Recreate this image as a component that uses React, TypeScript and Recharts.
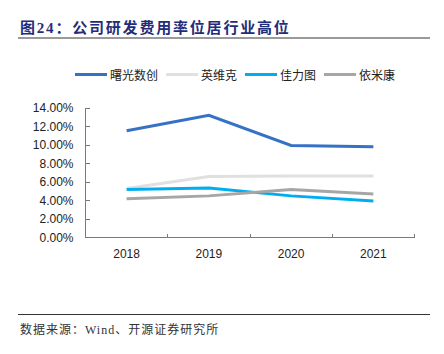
import { LineChart, Line, XAxis, YAxis } from "recharts";

const years = ["2018", "2019", "2020", "2021"];
const seriesNames = ["曙光数创", "英维克", "佳力图", "依米康"];
const seriesColors = ["#3572C6", "#E0E0E0", "#00AEEF", "#A6A6A6"];

const shuguang = [11.55, 13.2, 9.95, 9.8];
const yingweike = [5.3, 6.6, 6.65, 6.65];
const jialitu = [5.2, 5.35, 4.5, 3.95];
const yimikang = [4.2, 4.5, 5.2, 4.7];

const yTicks = [0, 2, 4, 6, 8, 10, 12, 14];
const xTicks = [0, 1, 2, 3, 4]; // category boundaries

const seriesValues = [shuguang, yingweike, jialitu, yimikang];

// each year sits in the middle of its band
const data = years.map((y, i) => {
  const row: Record<string, any> = { year: y, x: i + 0.5 };
  seriesNames.forEach((n, k) => {
    row[n] = seriesValues[k][i];
  });
  return row;
});

const W = 444;
const H = 354;
// half pixels so the 1px axis lines land on whole pixels
const margin = { top: 108, right: 29.5, bottom: 86.5, left: 0 };
const yAxisW = 85.5;
const band = (W - margin.left - margin.right - yAxisW) / years.length;

const axisFont = "'Liberation Sans', Arial, sans-serif";
const axisColor = "#7a7a7a";
const axisLineStyle = { stroke: axisColor, strokeWidth: 1, shapeRendering: "crispEdges" };

// year label drawn in the middle of the band that ends at this tick
function YearTick(props: any) {
  const { x, y, payload } = props;
  const idx = payload.value - 1;
  if (idx < 0 || idx >= years.length) return <g />;
  return (
    <text x={x - band / 2} y={y + 20} textAnchor="middle" fontSize={12} fill="#222" fontFamily={axisFont}>
      {years[idx]}
    </text>
  );
}

export default function App() {
  return (
    <div style={{ position: "absolute", left: 0, top: 0, width: W, height: H, background: "#fff" }}>
      {/* title */}
      <div
        style={{
          position: "absolute",
          left: 20,
          top: 16,
          fontFamily: "'Liberation Serif', 'Noto Sans CJK SC', serif",
          fontWeight: "bold",
          fontSize: 15,
          letterSpacing: 1.8,
          color: "#1F2D7A",
          whiteSpace: "nowrap",
        }}
      >
        图24：公司研发费用率位居行业高位
      </div>
      <div style={{ position: "absolute", left: 18, top: 37, width: 412, height: 2, background: "#9a9a9a" }} />

      {/* legend */}
      <div
        style={{
          position: "absolute",
          left: 75,
          top: 66,
          display: "flex",
          alignItems: "center",
          fontFamily: "'Noto Sans CJK SC', sans-serif",
          fontSize: 12,
          color: "#222",
          whiteSpace: "nowrap",
        }}
      >
        {seriesNames.map((n, i) => (
          <div key={n} style={{ display: "flex", alignItems: "center", marginRight: 8 }}>
            <span style={{ display: "inline-block", width: 32, height: 3, background: seriesColors[i], marginRight: 3 }} />
            <span>{n}</span>
          </div>
        ))}
      </div>

      <div style={{ position: "absolute", left: 0, top: 0 }}>
        <LineChart width={W} height={H} data={data} margin={margin}>
          <XAxis
            dataKey="x"
            type="number"
            domain={[0, 4]}
            ticks={xTicks}
            interval={0}
            height={30}
            stroke={axisColor}
            axisLine={axisLineStyle}
            tickLine={axisLineStyle}
            tickSize={-4}
            tickMargin={4}
            tick={<YearTick />}
          />
          <YAxis
            domain={[0, 14]}
            ticks={yTicks}
            interval={0}
            width={yAxisW}
            stroke={axisColor}
            axisLine={axisLineStyle}
            tickLine={axisLineStyle}
            tickSize={-4}
            tickMargin={16}
            tickFormatter={(v: number) => `${v.toFixed(2)}%`}
            tick={{ fontSize: 12, fill: "#222", fontFamily: axisFont }}
          />
          {seriesNames.map((n, i) => (
            <Line
              key={n}
              dataKey={n}
              type="linear"
              stroke={seriesColors[i]}
              strokeWidth={3}
              dot={false}
              activeDot={false}
              isAnimationActive={false}
            />
          ))}
        </LineChart>
      </div>

      {/* source */}
      <div style={{ position: "absolute", left: 18, top: 314, width: 412, height: 1, background: "#333" }} />
      <div
        style={{
          position: "absolute",
          left: 20,
          top: 320,
          fontFamily: "'Liberation Serif', 'Noto Sans CJK SC', serif",
          fontSize: 12,
          letterSpacing: 1,
          color: "#333",
          whiteSpace: "nowrap",
        }}
      >
        数据来源：Wind、开源证券研究所
      </div>
    </div>
  );
}
